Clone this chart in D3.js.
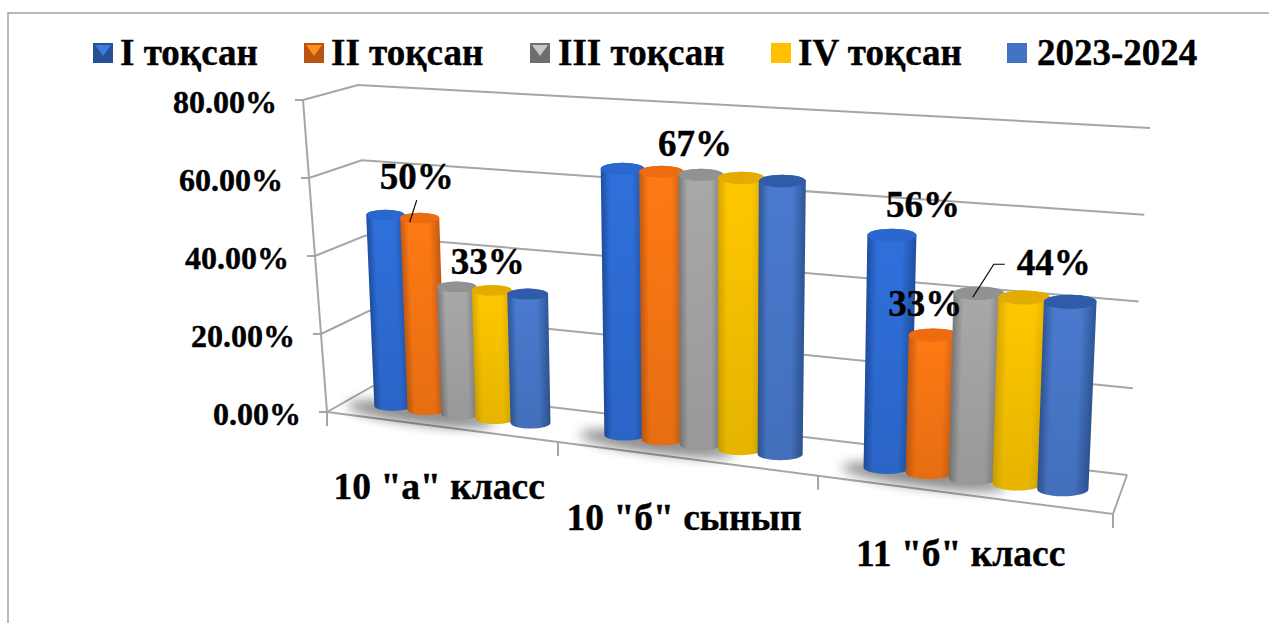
<!DOCTYPE html>
<html>
<head>
<meta charset="utf-8">
<script src="https://cdn.jsdelivr.net/npm/d3@7"></script>
<style>
html, body { margin: 0; padding: 0; background: white; overflow: hidden; }
text { font-family: "Liberation Serif", serif; font-weight: bold; fill: black; stroke: black; stroke-width: 0.4px; }
</style>
</head>
<body>
<div id="chart"></div>
<script>
// values
const categories = ['10 "а" класс', '10 "б" сынып', '11 "б" класс'];
const seriesNames = ['I тоқсан', 'II тоқсан', 'III тоқсан', 'IV тоқсан', '2023-2024'];
const chartValues = [
    [0.50, 0.50, 0.33, 0.33, 0.33],
    [0.67, 0.67, 0.67, 0.67, 0.67],
    [0.56, 0.33, 0.44, 0.44, 0.44]
];
const yTicks = [0, 0.2, 0.4, 0.6, 0.8];

// which bars carry a printed label
const labelCat = [0, 0, 1, 2, 2, 2];
const labelSeries = [1, 2, 2, 0, 1, 2];

// label placement relative to the top of its bar
const labelPlace = [
    {dx: -3, dy: -29, leader: [[-3, -18], [-10, 4]]},
    {dx: 31, dy: -13},
    {dx: -6, dy: -19},
    {dx: 31, dy: -18},
    {dx: -8, dy: -19},
    {dx: 75, dy: -18, leader: [[26, -29], [15, -29], [-6, 4]]}
];

const barColors = [
    {mid: '#2f70dc', edge: '#1f50a3', top: '#2a68cf'},
    {mid: '#ff7a14', edge: '#c85c12', top: '#ee6c10'},
    {mid: '#a9a9a9', edge: '#7b7b7b', top: '#929292'},
    {mid: '#ffc800', edge: '#dcaa00', top: '#e3ac00'},
    {mid: '#4a7bd0', edge: '#2f5899', top: '#2f5ba8'}
];

const width = 1269, height = 623;

// the eight corners of the 3d box on screen
const box = {
    f0: {x0: 327, y0: 412, x1: 1113, y1: 514},
    b0: {x0: 373, y0: 386, x1: 1127, y1: 475},
    f1: {x0: 303, y0: 100, x1: 1135, y1: 164},
    b1: {x0: 358, y0: 85, x1: 1150, y1: 128}
};

const yScale = d3.scaleLinear().domain([0, 0.8]).range([0, 1]);
const xCat = d3.scaleBand().domain(categories).range([0, 1]);
const xSeries = d3.scaleBand().domain(seriesNames).range([0, xCat.bandwidth()])
    .paddingInner(0).paddingOuter(0.8);

const barDepth = 0.45;
const barRise = 0.987;  // bars stop a little short of the gridlines
const barLean = 0.7;    // and lean less than the walls do

function warp(u){
    return 0.8324 * u / (1 - 0.1676 * u);
}

function project(u, w, t){
    let uu = warp(u);
    let edge = function(c){
        return [c.x0 + (c.x1 - c.x0) * uu, c.y0 + (c.y1 - c.y0) * uu];
    };
    let a = edge(box.f0), b = edge(box.b0), c = edge(box.f1), d = edge(box.b1);
    let low = [a[0] + (b[0] - a[0]) * w, a[1] + (b[1] - a[1]) * w];
    let high = [c[0] + (d[0] - c[0]) * w, c[1] + (d[1] - c[1]) * w];
    return [low[0] + (high[0] - low[0]) * t, low[1] + (high[1] - low[1]) * t];
}

let barData = [];
categories.forEach(function(cat, i){
    seriesNames.forEach(function(name, s){
        let value = chartValues[i][s];
        let u = xCat(cat) + xSeries(name) + xSeries.bandwidth() / 2 + 0.004;
        let du = xSeries.bandwidth() * 0.56;
        let t = yScale(value) * barRise;
        let base = project(u, barDepth, 0);
        let top = project(u, barDepth, t);
        top[0] = base[0] + (top[0] - base[0]) * barLean;
        let rBase = (project(u + du, barDepth, 0)[0] - project(u - du, barDepth, 0)[0]) / 2;
        let rTop = (project(u + du, barDepth, t)[0] - project(u - du, barDepth, t)[0]) / 2;
        barData.push({cat: i, series: s, id: 'bar' + i + '_' + s, base, top, rBase, rTop});
    });
});

let svg = d3.select('#chart').append('svg')
    .attr('width', width)
    .attr('height', height)
    .style('display', 'block')
    .style('background', 'white');

let defs = svg.append('defs');
defs.append('filter').attr('id', 'soft')
    .attr('x', '-30%').attr('y', '-100%').attr('width', '160%').attr('height', '300%')
    .append('feGaussianBlur').attr('stdDeviation', 6);

let fade = defs.append('linearGradient').attr('id', 'fade')
    .attr('x1', 0).attr('y1', 0).attr('x2', 0).attr('y2', 1);
fade.append('stop').attr('offset', 0).attr('stop-color', 'black').attr('stop-opacity', 0);
fade.append('stop').attr('offset', 1).attr('stop-color', 'black').attr('stop-opacity', 0.1);

// outer frame, runs off the page at right and bottom
svg.append('path')
    .attr('d', 'M8,640V13H1280')
    .attr('fill', 'none')
    .attr('stroke', '#a3a3a3')
    .attr('stroke-width', 1.5);

// walls and gridlines
let grid = svg.append('g')
    .attr('fill', 'none')
    .attr('stroke', '#a6a6a6')
    .attr('stroke-width', 2);
let line = d3.line();

yTicks.forEach(function(tick){
    let t = yScale(tick);
    grid.append('path').attr('d', line([project(0, 0, t), project(0, 1, t), project(1, 1, t)]));
    let p = project(0, 0, t);
    grid.append('path').attr('d', line([[p[0] - 8, p[1]], p]));
});
grid.append('path').attr('d', line([project(0, 0, 1), project(0, 0, 0)]));
grid.append('path').attr('d', line([project(0, 0, 0), project(1, 0, 0), project(1, 1, 0)]));

// category ticks below the front edge
d3.range(0, 4).forEach(function(i){
    let p = project(i / 3, 0, 0);
    grid.append('path').attr('d', line([p, [p[0], p[1] + 14]]));
});

// floor shadows
let shadows = svg.append('g');
categories.forEach(function(cat, i){
    let a = barData[i * 5], c = barData[i * 5 + 2];
    let cx = (a.base[0] + c.base[0]) / 2 - 6;
    let cy = (a.base[1] + c.base[1]) / 2 + 4;
    shadows.append('ellipse')
        .attr('cx', cx)
        .attr('cy', cy)
        .attr('rx', (c.base[0] - a.base[0]) / 2 + 40)
        .attr('ry', 10)
        .attr('transform', 'rotate(7 ' + cx + ' ' + cy + ')')
        .attr('fill', '#000')
        .attr('opacity', 0.45)
        .attr('filter', 'url(#soft)');
});

// each bar gets its own gradient, turned with the lean of the cylinder
let grads = defs.selectAll('linearGradient.bar')
    .data(barData)
    .join('linearGradient')
    .attr('class', 'bar')
    .attr('id', d => d.id)
    .attr('gradientUnits', 'userSpaceOnUse')
    .each(function(d){
        let ax = d.top[0] - d.base[0], ay = d.top[1] - d.base[1];
        let len = Math.sqrt(ax * ax + ay * ay);
        let nx = -ay / len, ny = ax / len;
        let mx = (d.top[0] + d.base[0]) / 2, my = (d.top[1] + d.base[1]) / 2;
        let r = (d.rTop + d.rBase) / 2;
        d3.select(this)
            .attr('x1', mx - nx * r).attr('y1', my - ny * r)
            .attr('x2', mx + nx * r).attr('y2', my + ny * r);
    });
[[0, 'edge'], [0.2, 'mid'], [0.72, 'mid'], [1, 'edge']].forEach(function(s){
    grads.append('stop')
        .attr('offset', s[0])
        .attr('stop-color', d => barColors[d.series][s[1]]);
});

function bodyPath(d){
    let ryT = d.rTop * 0.27, ryB = d.rBase * 0.27;
    return 'M' + (d.top[0] - d.rTop) + ',' + d.top[1]
        + 'L' + (d.base[0] - d.rBase) + ',' + d.base[1]
        + 'A' + d.rBase + ',' + ryB + ' 0 0 0 ' + (d.base[0] + d.rBase) + ',' + d.base[1]
        + 'L' + (d.top[0] + d.rTop) + ',' + d.top[1]
        + 'A' + d.rTop + ',' + ryT + ' 0 0 0 ' + (d.top[0] - d.rTop) + ',' + d.top[1] + 'Z';
}

let bars = svg.append('g').selectAll('g')
    .data(barData)
    .join('g');
bars.append('path')
    .attr('d', bodyPath)
    .attr('fill', d => 'url(#' + d.id + ')');
bars.append('path')
    .attr('d', bodyPath)
    .attr('fill', 'url(#fade)');
bars.append('ellipse')
    .attr('cx', d => d.top[0])
    .attr('cy', d => d.top[1])
    .attr('rx', d => d.rTop)
    .attr('ry', d => d.rTop * 0.27)
    .attr('fill', d => barColors[d.series].top);

// y axis labels
let fmtTick = d3.format('.2%');
svg.append('g').selectAll('text')
    .data(yTicks)
    .join('text')
    .attr('x', d => project(0, 0, yScale(d))[0] - 26)
    .attr('y', d => project(0, 0, yScale(d))[1] + 13)
    .attr('text-anchor', 'end')
    .attr('font-size', 32)
    .text(d => fmtTick(d));

// category labels
svg.append('g').selectAll('text')
    .data(categories)
    .join('text')
    .attr('x', d => project(xCat(d) + xCat.bandwidth() / 2, 0, 0)[0])
    .attr('y', d => project(xCat(d) + xCat.bandwidth() / 2, 0, 0)[1] + 72)
    .attr('text-anchor', 'middle')
    .attr('font-size', 37.5)
    .text(d => d);

// data labels and leader lines
let fmtPct = d3.format('.0%');
labelCat.forEach(function(c, i){
    let s = labelSeries[i];
    let bar = barData[c * 5 + s];
    let place = labelPlace[i];
    svg.append('text')
        .attr('x', bar.top[0] + place.dx)
        .attr('y', bar.top[1] + place.dy)
        .attr('text-anchor', 'middle')
        .attr('font-size', 37)
        .text(fmtPct(chartValues[c][s]));
    if(place.leader){
        svg.append('path')
            .attr('d', line(place.leader.map(p => [bar.top[0] + p[0], bar.top[1] + p[1]])))
            .attr('fill', 'none')
            .attr('stroke', 'black')
            .attr('stroke-width', 1.2);
    }
});

// legend
const legendSwatchX = [93, 304, 530, 771, 1007];
const legendTextX = [120, 331, 558, 798, 1037];
const legendColors = [
    {base: '#264f96', light: '#3a7be0'},
    {base: '#b85510', light: '#ff8a1e'},
    {base: '#6e6e6e', light: '#c8c8c8'},
    {base: '#ffc000', light: '#ffc000'},
    {base: '#4472c4', light: '#4472c4'}
];
let legend = svg.append('g').selectAll('g')
    .data(seriesNames)
    .join('g');
legend.append('rect')
    .attr('x', (d, i) => legendSwatchX[i])
    .attr('y', 43)
    .attr('width', 20)
    .attr('height', 20)
    .attr('fill', (d, i) => legendColors[i].base);
legend.append('path')
    .attr('d', (d, i) => {
        let x = legendSwatchX[i];
        return 'M' + (x + 2) + ',45H' + (x + 18) + 'L' + (x + 10) + ',56Z';
    })
    .attr('fill', (d, i) => legendColors[i].light);
legend.append('text')
    .attr('x', (d, i) => legendTextX[i])
    .attr('y', 65)
    .attr('font-size', 37)
    .text(d => d);
</script>
</body>
</html>
